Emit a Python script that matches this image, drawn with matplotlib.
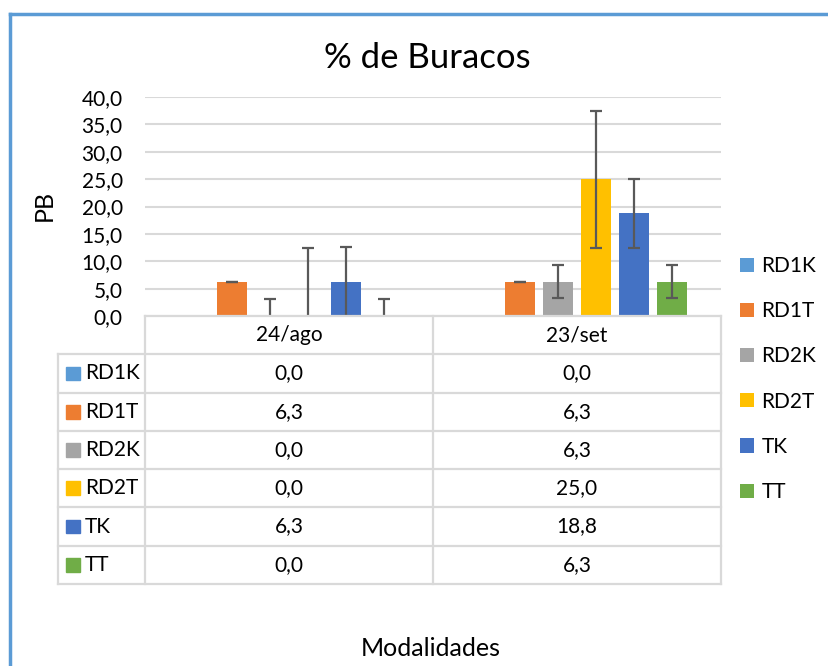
import matplotlib
matplotlib.use("Agg")
import matplotlib.pyplot as plt
from matplotlib.lines import Line2D
from matplotlib.patches import Rectangle
import numpy as np

plt.rcParams['font.family'] = ['Lato', 'DejaVu Sans']

categories = ["24/ago", "23/set"]
series = ["RD1K", "RD1T", "RD2K", "RD2T", "TK", "TT"]
colors = ["#5B9BD5", "#ED7D31", "#A5A5A5", "#FFC000", "#4472C4", "#70AD47"]
values = {
    "RD1K": [0.0, 0.0],
    "RD1T": [6.3, 6.3],
    "RD2K": [0.0, 6.3],
    "RD2T": [0.0, 25.0],
    "TK":   [6.3, 18.8],
    "TT":   [0.0, 6.3],
}
errors = {
    "RD1K": [0.0, 0.0],
    "RD1T": [0.0, 0.0],
    "RD2K": [3.1, 3.1],
    "RD2T": [12.5, 12.5],
    "TK":   [6.3, 6.3],
    "TT":   [3.1, 3.1],
}
yticks = [0, 5, 10, 15, 20, 25, 30, 35, 40]
title = "% de Buracos"
ylabel = "PB"
xlabel = "Modalidades"

W, H = 829, 666
fig = plt.figure(figsize=(W / 100, H / 100), dpi=100)

def fx(px):
    return px / W

def fy(py):
    return 1 - py / H

FS = 15

# main plot area (pixels): x 145..721, y 97..316
ax = fig.add_axes([fx(145), fy(316), fx(721) - fx(145), fy(97) - fy(316)])
ax.set_xlim(-0.5, 1.5)
ax.set_ylim(0, 40)
step = 38 / 288
width = 30 / 288
x = np.arange(len(categories))
handles = []
for i, s in enumerate(series):
    pos = x + (i - 2.5) * step
    b = ax.bar(pos, values[s], width=width, color=colors[i], zorder=2)
    handles.append(b)
    v = np.array(values[s])
    e = np.array(errors[s])
    show = ~((v == 0) & (e == 0))
    if show.any():
        ax.errorbar(pos[show], v[show], yerr=e[show], fmt='none', ecolor="#595959",
                    elinewidth=1.6, capsize=4.5, capthick=1.6, zorder=3)
ax.set_yticks(yticks)
ax.set_yticklabels([f"{t:.1f}".replace(".", ",") for t in yticks], fontsize=FS)
ax.tick_params(axis='y', length=0, pad=16)
ax.tick_params(axis='x', length=0, labelbottom=False)
ax.grid(axis='y', color="#D9D9D9", linewidth=1.5, zorder=0)
for sp in ax.spines.values():
    sp.set_visible(False)
ax.set_ylabel(ylabel, fontsize=18)
ax.yaxis.set_label_coords((56 - 145) / 576, (316 - 205) / 219)

# title
fig.text(fx(427), fy(58), title, fontsize=25, ha='center', va='center')

# data table axes: x 58..721, y 316..584
tax = fig.add_axes([fx(58), fy(584), fx(721) - fx(58), fy(316) - fy(584)])
left = -0.5 - 87 / 288
tax.set_xlim(left, 1.5)
nrows = len(series) + 1
tax.set_ylim(nrows, 0)
tax.axis('off')
lc = "#D9D9D9"
lw = 1.6
tax.plot([-0.5, 1.5], [0, 0], color=lc, lw=lw, clip_on=False)
for r in range(1, nrows + 1):
    tax.plot([left, 1.5], [r, r], color=lc, lw=lw, clip_on=False)
tax.plot([left, left], [1, nrows], color=lc, lw=lw, clip_on=False)
for xv in [-0.5, 0.5, 1.5]:
    tax.plot([xv, xv], [0, nrows], color=lc, lw=lw, clip_on=False)
for j, c in enumerate(categories):
    tax.text(j, 0.5, c, fontsize=FS, ha='center', va='center')
unit_px = 288
for i, s in enumerate(series):
    r = i + 1.5
    sq = 14 / unit_px
    tax.add_patch(Rectangle((left + 8 / unit_px, r - 0.18), sq, 0.36,
                            color=colors[i], clip_on=False))
    tax.text(left + 27 / unit_px, r, s, fontsize=FS, ha='left', va='center')
    for j in range(len(categories)):
        tax.text(j, r, f"{values[s][j]:.1f}".replace(".", ","), fontsize=FS,
                 ha='center', va='center')

# legend
leg = fig.legend(handles, series, loc='upper left',
                 bbox_to_anchor=(fx(740), fy(256)), frameon=False,
                 fontsize=FS, handlelength=0.68, handleheight=0.68,
                 handletextpad=0.35, labelspacing=1.21, borderpad=0,
                 borderaxespad=0)

# x axis title
fig.text(fx(431), fy(648), xlabel, fontsize=18, ha='center', va='center')

# chart border (left and top)
fig.add_artist(Line2D([fx(10), fx(10)], [0, fy(14)], color="#5B9BD5", lw=2.5))
fig.add_artist(Line2D([fx(10), 1], [fy(14), fy(14)], color="#5B9BD5", lw=2.5))

fig.savefig("out.png", dpi=100)
